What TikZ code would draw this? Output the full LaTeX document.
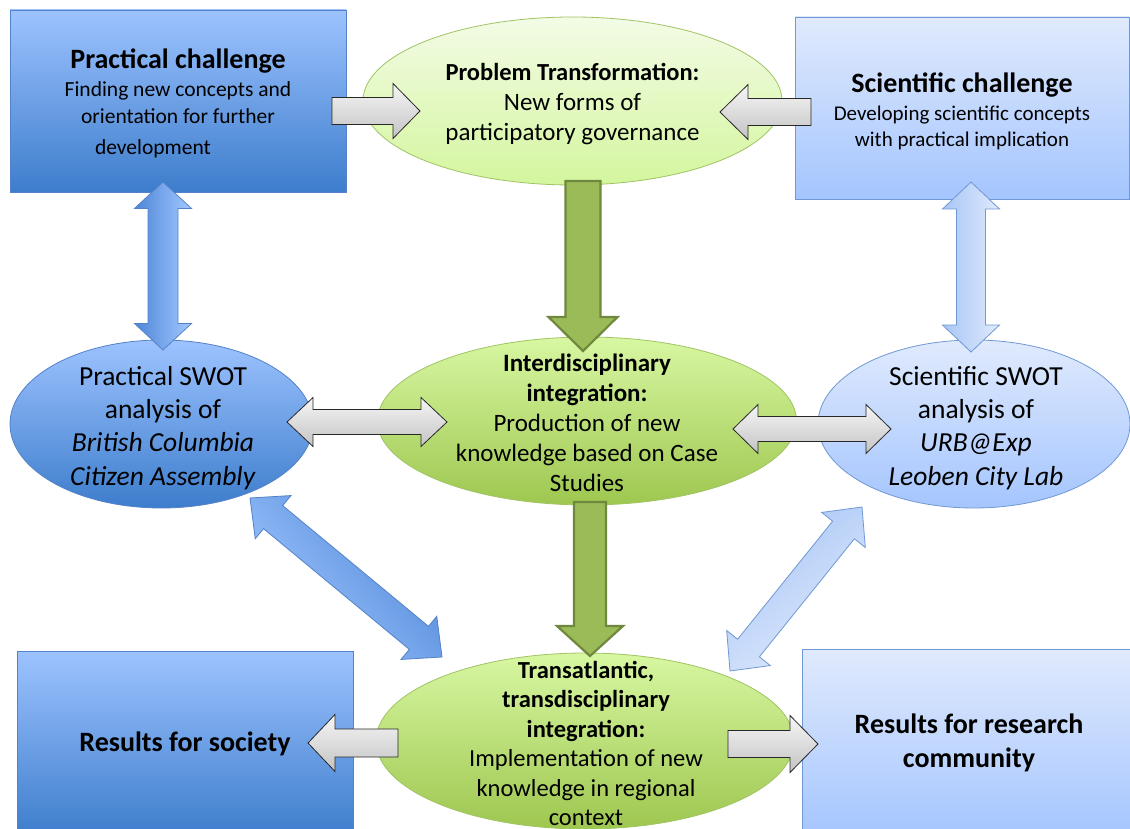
\documentclass[tikz,border=0pt]{standalone}
\usepackage{fontspec}
\setmainfont{Carlito}
\usetikzlibrary{calc,shapes.geometric}

\definecolor{bdT}{RGB}{157,195,255}
\definecolor{bdB}{RGB}{61,125,204}
\definecolor{bdL}{RGB}{84,130,200}
\definecolor{blT}{RGB}{224,234,253}
\definecolor{blB}{RGB}{164,197,254}
\definecolor{blL}{RGB}{112,152,212}
\definecolor{gaT}{RGB}{243,251,230}
\definecolor{gaB}{RGB}{212,246,158}
\definecolor{gbT}{RGB}{216,247,162}
\definecolor{gbB}{RGB}{158,199,80}
\definecolor{gL}{RGB}{160,196,100}
\definecolor{gArr}{RGB}{155,187,89}
\definecolor{gArrL}{RGB}{112,136,62}
\definecolor{grT}{RGB}{246,246,246}
\definecolor{grB}{RGB}{195,195,195}
\definecolor{grL}{RGB}{40,40,40}

\newcommand\fsz[2]{\fontsize{#1}{#2}\selectfont}

% block arrow with one head: style, tail, tip, head length, head half width, shaft half width
\newcommand\blksingle[6]{%
  \coordinate (bh) at ($(#3)!#4!(#2)$);
  \path[#1] ($(#2)!#6!90:(#3)$) -- ($(bh)!#6!90:(#3)$) -- ($(bh)!#5!90:(#3)$) -- (#3)
    -- ($(bh)!#5!-90:(#3)$) -- ($(bh)!#6!-90:(#3)$) -- ($(#2)!#6!-90:(#3)$) -- cycle;
}
% block arrow with two heads: style, first tip, second tip, head length, head half width, shaft half width
\newcommand\blkdouble[6]{%
  \coordinate (bha) at ($(#2)!#4!(#3)$);
  \coordinate (bhb) at ($(#3)!#4!(#2)$);
  \path[#1] (#2) -- ($(bha)!#5!90:(#3)$) -- ($(bha)!#6!90:(#3)$) -- ($(bhb)!#6!90:(#3)$)
    -- ($(bhb)!#5!90:(#3)$) -- (#3) -- ($(bhb)!#5!-90:(#3)$) -- ($(bhb)!#6!-90:(#3)$)
    -- ($(bha)!#6!-90:(#3)$) -- ($(bha)!#5!-90:(#3)$) -- cycle;
}

\begin{document}
\begin{tikzpicture}[x=1pt,y=-1pt,
  darkbox/.style={rectangle, draw=bdL, line width=0.8pt, top color=bdT, bottom color=bdB, inner sep=0pt},
  lightbox/.style={rectangle, draw=blL, line width=0.8pt, top color=blT, bottom color=blB, inner sep=0pt},
  darkoval/.style={ellipse, draw=bdL, line width=0.8pt, top color=bdT, bottom color=bdB, inner sep=0pt},
  lightoval/.style={ellipse, draw=blL, line width=0.8pt, top color=blT, bottom color=blB, inner sep=0pt},
  paleoval/.style={ellipse, draw=gL, line width=0.8pt, top color=gaT, bottom color=gaB, inner sep=0pt},
  greenoval/.style={ellipse, draw=gL, line width=0.8pt, top color=gbT, bottom color=gbB, inner sep=0pt},
  txt/.style={align=center, inner sep=0pt},
  greyarrow/.style={draw=grL, line width=0.8pt, top color=grT, bottom color=grB, line join=miter},
  greenarrow/.style={draw=gArrL, line width=2.2pt, fill=gArr, line join=miter},
  darkarrow/.style={draw=bdL, line width=0.8pt, left color={rgb,255:red,78;green,134;blue,216}, right color={rgb,255:red,162;green,200;blue,255}},
  lightarrow/.style={draw=blL, line width=0.8pt, left color={rgb,255:red,168;green,198;blue,245}, right color={rgb,255:red,224;green,234;blue,253}}
]
\useasboundingbox (0,0) rectangle (1130,829);
\fill[white] (0,0) rectangle (1130,829);

% boxes
\node[darkbox, minimum width=336pt, minimum height=182pt] (pc) at (178,101) {};
\node[txt, font=\fsz{21.5}{27}] (pct) at ($(pc.center)+(0,2.5)$)
  {\textbf{\fsz{28}{30}Practical challenge}\\[1pt]Finding new concepts and\\orientation for further\\[4pt]\hspace*{-50pt}development};
\node[lightbox, minimum width=334pt, minimum height=182pt] (sc) at (962,108) {};
\node[txt, font=\fsz{21}{26}] (sct) at ($(sc.center)+(0,3)$)
  {\textbf{\fsz{28}{30}Scientific challenge}\\[2pt]Developing scientific concepts\\with practical implication};
\node[darkbox, minimum width=336pt, minimum height=186pt] (rs) at (185,744) {};
\node[txt, font=\fsz{28}{34}\bfseries] (rst) at (rs.center) {Results for society};
\node[lightbox, minimum width=334pt, minimum height=188pt] (rr) at (969,743) {};
\node[txt, font=\fsz{28}{34}\bfseries] (rrt) at (rr.center) {Results for research\\community};

% ovals
\node[paleoval, minimum width=419pt, minimum height=168pt] (pt) at (572.5,101) {};
\node[txt, font=\fsz{25}{30}] (ptt) at ($(pt.center)+(0,3)$)
  {\textbf{\fsz{24.5}{30}Problem Transformation:}\\New forms of\\participatory governance};

\node[greenoval, minimum width=419pt, minimum height=168pt] (ii) at (587,421) {};
\node[txt, font=\fsz{25}{30}] (iit) at ($(ii.center)+(0,1.5)$)
  {\textbf{Interdisciplinary}\\\textbf{integration:}\\Production of new\\knowledge based on Case\\Studies};

\node[greenoval, minimum width=418pt, minimum height=176pt] (ti) at (585,741) {};
\node[txt, font=\fsz{24.5}{29.5}] (tit) at (586,743.5)
  {\textbf{Transatlantic,}\\\textbf{transdisciplinary}\\\textbf{integration:}\\Implementation of new\\knowledge in regional\\context};

\node[darkoval, minimum width=303pt, minimum height=168pt] (ps) at (161.5,424) {};
\node[txt, font=\fsz{27.5}{33.3}] (pst) at (163,428)
  {Practical SWOT\\analysis of\\\textit{British Columbia}\\\textit{Citizen Assembly}};

\node[lightoval, minimum width=312pt, minimum height=168pt] (ss) at (974,424) {};
\node[txt, font=\fsz{27.5}{33.3}] (sst) at (976,428)
  {Scientific SWOT\\analysis of\\\textit{URB@Exp}\\\textit{Leoben City Lab}};

% arrow end points
\coordinate (g1a) at (332,111); \coordinate (g1b) at (420,111);
\coordinate (g2a) at (811,112); \coordinate (g2b) at (720,112);
\coordinate (g3a) at (287,422); \coordinate (g3b) at (447,422);
\coordinate (g4a) at (733,429); \coordinate (g4b) at (891,429);
\coordinate (g5a) at (398,743); \coordinate (g5b) at (308,743);
\coordinate (g6a) at (728,744); \coordinate (g6b) at (818,744);
\coordinate (b1a) at (163,182); \coordinate (b1b) at (163,350);
\coordinate (b2a) at (971,182); \coordinate (b2b) at (971,352);
\coordinate (d1a) at (250,498); \coordinate (d1b) at (442,657);
\coordinate (d2a) at (862,507); \coordinate (d2b) at (730,671);
\coordinate (v1a) at (583,181); \coordinate (v1b) at (583,351);
\coordinate (v2a) at (590,502); \coordinate (v2b) at (590,656);

% grey arrows
\blksingle{greyarrow}{g1a}{g1b}{27pt}{27.5pt}{13.5pt}
\blksingle{greyarrow}{g2a}{g2b}{28pt}{27.5pt}{13.5pt}
\blkdouble{greyarrow}{g3a}{g3b}{26pt}{24.5pt}{12.5pt}
\blkdouble{greyarrow}{g4a}{g4b}{25pt}{24.5pt}{12.5pt}
\blksingle{greyarrow}{g5a}{g5b}{27pt}{28.5pt}{14pt}
\blksingle{greyarrow}{g6a}{g6b}{28pt}{28.5pt}{13.5pt}

% blue arrows
\blkdouble{darkarrow}{b1a}{b1b}{26.5pt}{28.5pt}{15pt}
\blkdouble{lightarrow}{b2a}{b2b}{27pt}{28.5pt}{14.5pt}
\blkdouble{darkarrow, shading angle=-50}{d1a}{d1b}{30pt}{28pt}{15pt}
\blkdouble{lightarrow, shading angle=39}{d2a}{d2b}{29.5pt}{28pt}{14pt}

% green arrows
\blksingle{greenarrow}{v1a}{v1b}{34pt}{34.5pt}{17.5pt}
\blksingle{greenarrow}{v2a}{v2b}{30pt}{33pt}{16pt}

\end{tikzpicture}
\end{document}
